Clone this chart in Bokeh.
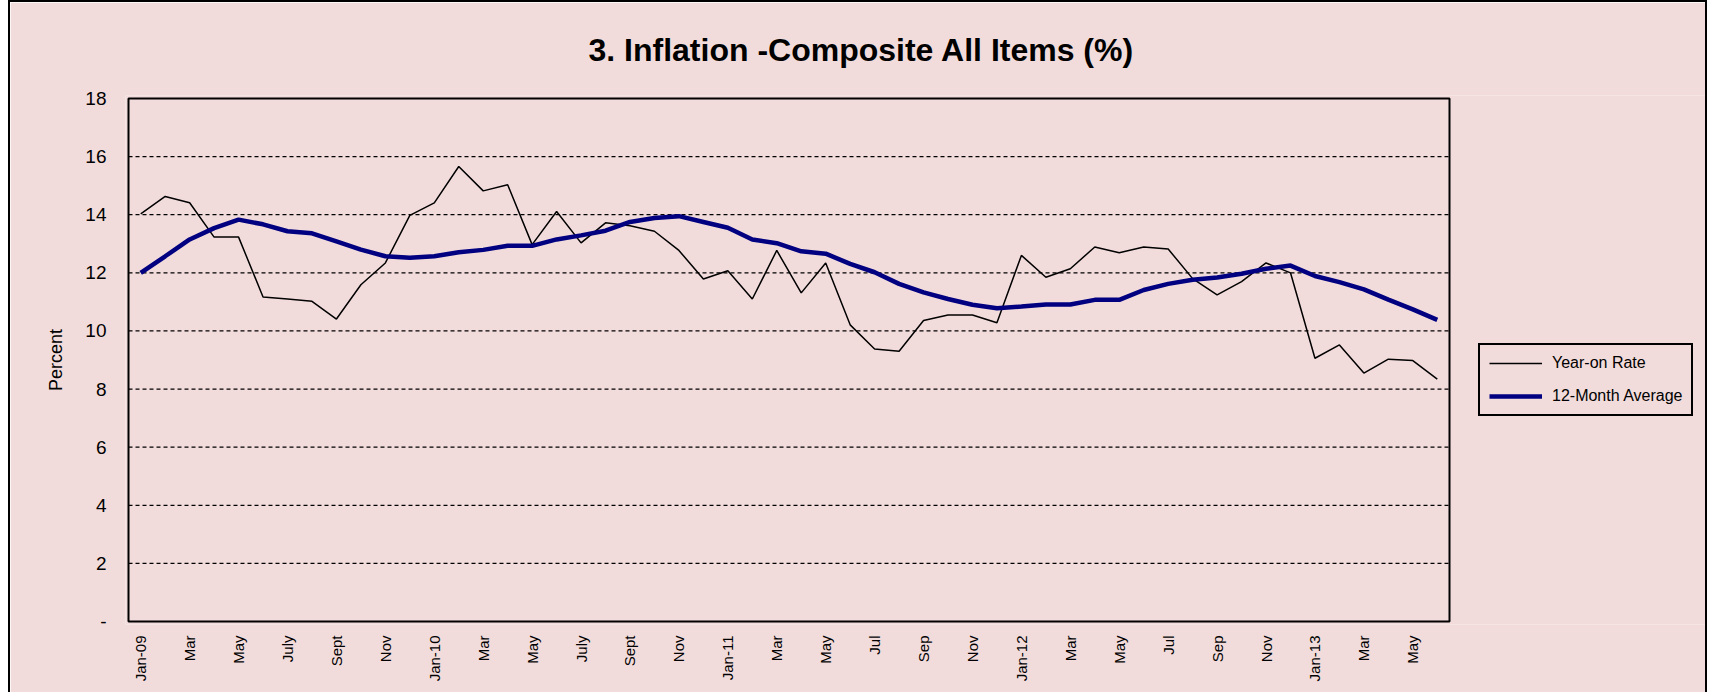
from bokeh.plotting import figure
from bokeh.models import FixedTicker, Legend, LegendItem, Title, BoxAnnotation
from bokeh.embed import file_html
from bokeh.resources import INLINE
import math

months = ["Jan-09","Feb-09","Mar-09","Apr-09","May-09","Jun-09","Jul-09","Aug-09","Sep-09","Oct-09","Nov-09","Dec-09",
          "Jan-10","Feb-10","Mar-10","Apr-10","May-10","Jun-10","Jul-10","Aug-10","Sep-10","Oct-10","Nov-10","Dec-10",
          "Jan-11","Feb-11","Mar-11","Apr-11","May-11","Jun-11","Jul-11","Aug-11","Sep-11","Oct-11","Nov-11","Dec-11",
          "Jan-12","Feb-12","Mar-12","Apr-12","May-12","Jun-12","Jul-12","Aug-12","Sep-12","Oct-12","Nov-12","Dec-12",
          "Jan-13","Feb-13","Mar-13","Apr-13","May-13","Jun-13"]

tick_labels = ["Jan-09","Mar","May","July","Sept","Nov",
               "Jan-10","Mar","May","July","Sept","Nov",
               "Jan-11","Mar","May","Jul","Sep","Nov",
               "Jan-12","Mar","May","Jul","Sep","Nov",
               "Jan-13","Mar","May"]

year_on_rate = [14.03,14.63,14.41,13.23,13.23,11.17,11.10,11.02,10.41,11.59,12.34,13.98,
                14.41,15.66,14.82,15.03,12.97,14.11,13.03,13.72,13.62,13.43,12.77,11.79,
                12.07,11.10,12.77,11.31,12.34,10.21,9.38,9.30,10.36,10.55,10.55,10.28,
                12.60,11.85,12.14,12.89,12.69,12.89,12.82,11.80,11.24,11.70,12.34,12.00,
                9.06,9.52,8.55,9.03,8.98,8.34]

avg_12m = [12.00,12.57,13.15,13.54,13.83,13.67,13.43,13.36,13.08,12.80,12.57,12.52,
           12.57,12.71,12.79,12.93,12.93,13.15,13.29,13.45,13.75,13.89,13.95,13.75,
           13.55,13.15,13.02,12.74,12.66,12.31,12.02,11.62,11.33,11.10,10.90,10.78,
           10.84,10.91,10.91,11.07,11.07,11.41,11.62,11.76,11.84,11.97,12.14,12.25,
           11.89,11.68,11.43,11.08,10.74,10.38]

y_ticks = [0, 2, 4, 6, 8, 10, 12, 14, 16, 18]

BG = "#F2DCDB"
FONT = "Liberation Sans"

n = len(months)
x = list(range(n))

# canvas layout (pixels)
W, H = 1699, 692
BOX_L, BOX_R, BOX_T, BOX_B = 118, 1439, 95, 619   # inner plotting box
PAD = 3
FR_L, FR_T, FR_B = BOX_L - PAD, BOX_T - PAD, BOX_B + PAD
RIGHT = 4
kx = (BOX_R - BOX_L) / n
ky = (BOX_B - BOX_T) / 18.0
x_start = -0.5 - PAD / kx
x_end = x_start + (W - RIGHT - FR_L) / kx
y_start = -PAD / ky
y_end = 18 + PAD / ky

p = figure(width=W, height=H, output_backend="svg", toolbar_location=None,
           x_range=(x_start, x_end), y_range=(y_start, y_end),
           min_border_left=FR_L, min_border_right=RIGHT, min_border_top=FR_T, min_border_bottom=H - FR_B)
p.background_fill_color = BG
p.border_fill_color = BG
p.outline_line_color = None
p.styles = {"margin-left": "8px", "border-left": "2px solid black", "border-top": "2px solid black",
            "border-right": "2px solid black"}

p.title = Title(text="3. Inflation -Composite All Items (%)", align="left", offset=463,
                text_font=FONT, text_font_size="32px", text_font_style="bold", text_color="black",
                standoff=55)

# axes
p.xaxis.ticker = FixedTicker(ticks=x[::2])
p.xaxis.major_label_overrides = {i * 2: lab for i, lab in enumerate(tick_labels)}
p.xaxis.major_label_orientation = math.pi / 2
p.xaxis.major_label_text_font = FONT
p.xaxis.major_label_text_font_size = "15px"
p.xaxis.major_label_text_color = "black"
p.xaxis.major_label_standoff = 5
p.xaxis.major_tick_line_color = None
p.xaxis.minor_tick_line_color = None
p.xaxis.axis_line_color = None

p.yaxis.ticker = FixedTicker(ticks=y_ticks)
p.yaxis.major_label_overrides = {0: "-"}
p.yaxis.major_label_text_font = FONT
p.yaxis.major_label_text_font_size = "19px"
p.yaxis.major_label_text_color = "black"
p.yaxis.major_label_standoff = 13
p.yaxis.major_tick_line_color = None
p.yaxis.minor_tick_line_color = None
p.yaxis.axis_line_color = None
p.yaxis.axis_label = "Percent"
p.yaxis.axis_label_text_font = FONT
p.yaxis.axis_label_text_font_size = "18px"
p.yaxis.axis_label_text_font_style = "normal"
p.yaxis.axis_label_text_color = "black"
p.yaxis.axis_label_standoff = 16

p.xgrid.grid_line_color = None
p.ygrid.grid_line_color = None

# dashed horizontal gridlines limited to the plotting box
grid_vals = y_ticks[1:-1]
p.segment(x0=[-0.5] * len(grid_vals), x1=[n - 0.5] * len(grid_vals), y0=grid_vals, y1=grid_vals,
          line_color="black", line_dash="4 3", line_width=1.2)

# plotting box border
p.add_layout(BoxAnnotation(left=-0.5, right=n - 0.5, bottom=0, top=18,
                           fill_alpha=0, line_color="black", line_width=2, line_alpha=1))

r1 = p.line(x, year_on_rate, line_color="black", line_width=1.5)
r2 = p.line(x, avg_12m, line_color="#000080", line_width=4.5)

legend = Legend(items=[LegendItem(label="Year-on Rate", renderers=[r1]),
                       LegendItem(label="12-Month Average", renderers=[r2])],
                location=(1353, 208), orientation="vertical")
legend.background_fill_color = BG
legend.background_fill_alpha = 1
legend.border_line_color = "black"
legend.border_line_alpha = 1
legend.border_line_width = 2
legend.label_text_font = FONT
legend.label_text_font_size = "16px"
legend.label_text_color = "black"
legend.glyph_width = 53
legend.glyph_height = 18
legend.label_height = 18
legend.label_standoff = 10
legend.padding = 9
legend.spacing = 15
legend.margin = 0
p.add_layout(legend, "center")

open("out.html", "w").write(file_html(p, INLINE))
